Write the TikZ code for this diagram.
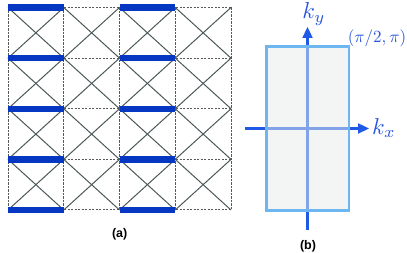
\documentclass[tikz,border=0pt]{standalone}
\usepackage{fontspec}
\newfontfamily\labfont{Liberation Sans}
\usetikzlibrary{arrows.meta}
\definecolor{gridgrey}{RGB}{85,90,90}
\definecolor{diaggrey}{RGB}{75,88,88}
\definecolor{barblue}{RGB}{5,55,195}
\definecolor{axisblue}{RGB}{30,90,230}
\definecolor{boxblue}{RGB}{110,182,240}
\definecolor{boxfill}{RGB}{232,236,236}
\definecolor{labblue}{RGB}{40,85,220}
\tikzset{
  gridline/.style={draw=gridgrey, line width=1pt, dash pattern=on 2.2pt off 1.3pt},
  diagline/.style={draw=diaggrey, line width=1pt},
  bondbar/.style={draw=barblue, line width=6.3pt},
  axisline/.style={draw=axisblue, line width=2.3pt, -{Triangle[length=11pt,width=10pt]}},
  bzone/.style={draw=boxblue, line width=2.7pt, fill=boxfill, fill opacity=0.5, minimum width=82.3pt, minimum height=164pt, inner sep=0pt},
  klabel/.style={text=labblue, inner sep=0pt, scale=2.3},
  cornerlabel/.style={text=labblue, inner sep=0pt, scale=1.7},
  panellabel/.style={inner sep=0pt, font=\labfont\bfseries\fontsize{12.5}{12.5}\selectfont}
}
\begin{document}
\begin{tikzpicture}[x=1pt,y=-1pt]
\useasboundingbox (0,0) rectangle (407,253);
% lattice points
\foreach \i in {0,...,4}
  \foreach \j in {0,...,4}
    \coordinate (p\i\j) at ({8+55.75*\i},{7.5+50.625*\j});
% diagonals
\foreach \i in {0,...,3}
  \foreach \j in {0,...,3}{
    \pgfmathtruncatemacro{\ii}{\i+1}
    \pgfmathtruncatemacro{\jj}{\j+1}
    \draw[diagline] (p\i\j) -- (p\ii\jj);
    \draw[diagline] (p\ii\j) -- (p\i\jj);
  }
% dashed grid
\foreach \k in {0,...,4}{
  \draw[gridline] (p0\k) -- (p4\k);
  \draw[gridline] (p\k0) -- (p\k4);
}
% bonds
\foreach \j in {0,...,4}{
  \draw[bondbar] (p0\j) -- (p1\j);
  \draw[bondbar] (p2\j) -- (p3\j);
}
\node[panellabel] (la) at (119.7,234.3) {(a)};
% panel (b)
\coordinate (ybot) at (307.5,230);
\coordinate (ytop) at (307.5,27);
\coordinate (xleft) at (245,128.5);
\coordinate (xright) at (369,128.5);
\draw[axisline] (ybot) -- (ytop);
\draw[axisline] (xleft) -- (xright);
\node[bzone] (bz) at (307.8,128.7) {};
\node[klabel] (ky) at (314,14) {$k_y$};
\node[klabel] (kx) at (384,128) {$k_x$};
\node[cornerlabel] (corner) at (377,38) {$(\pi/2,\pi)$};
\node[panellabel] (lb) at (308,246.7) {(b)};
\end{tikzpicture}
\end{document}
